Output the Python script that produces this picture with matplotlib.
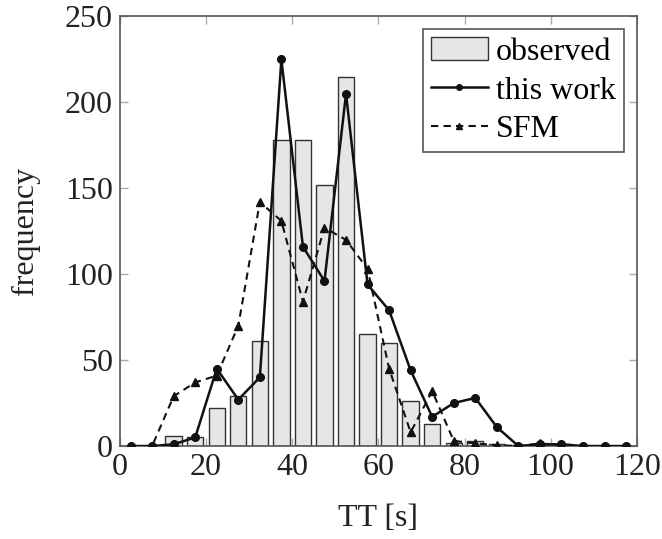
import matplotlib
matplotlib.use("Agg")
import matplotlib.pyplot as plt
from matplotlib.lines import Line2D
from matplotlib.patches import Patch

x_points = [2.5, 7.5, 12.5, 17.5, 22.5, 27.5, 32.5, 37.5, 42.5, 47.5, 52.5, 57.5,
            62.5, 67.5, 72.5, 77.5, 82.5, 87.5, 92.5, 97.5, 102.5, 107.5, 112.5, 117.5]
observed = [0, 0, 6, 5, 22, 29, 61, 178, 178, 152, 215, 65,
            60, 26, 13, 2, 3, 1, 0.5, 0.5, 1, 0, 0, 0]
this_work = [0, 0, 1, 5, 45, 27, 40, 225, 116, 96, 205, 94,
             79, 44, 17, 25, 28, 11, 0, 1, 1, 0, 0, 0]
sfm = [0, 0, 29, 37, 41, 70, 142, 131, 84, 127, 120, 103,
       45, 8, 32, 3, 1.5, 0.5, 0, 1.5, 0.5, 0, 0, 0]

xticks = [0, 20, 40, 60, 80, 100, 120]
yticks = [0, 50, 100, 150, 200, 250]

plt.rcParams['font.family'] = ['Liberation Serif', 'DejaVu Serif']

fig = plt.figure(figsize=(6.62, 5.39), dpi=100)
ax = fig.add_axes([0.181, 0.1725, 0.781, 0.797])

bar_fc = '#e5e6e8'
bar_ec = '#333333'
ls_dash = (0, (3.5, 2.5))
ax.bar(x_points, observed, width=3.8, color=bar_fc, edgecolor=bar_ec, linewidth=1.0, zorder=2)
ax.plot(x_points, this_work, color='#111111', linewidth=1.8, marker='o', markersize=5.5, zorder=4)
ax.plot(x_points, sfm, color='#111111', linewidth=1.5, linestyle=ls_dash, marker='^',
        markersize=5.5, zorder=3)

ax.set_xlim(0, 120)
ax.set_ylim(0, 250)
ax.set_xticks(xticks)
ax.set_yticks(yticks)
ax.tick_params(axis='both', which='both', direction='in', length=6, width=1.0, color='#aaaaaa',
               top=True, right=True, labelsize=23, pad=5, labelcolor='#222222')
for s in ax.spines.values():
    s.set_color('#555555')
    s.set_linewidth(1.2)

ax.set_xlabel('TT [s]', fontsize=23, color='#222222', labelpad=16)
ax.set_ylabel('frequency', fontsize=23, color='#222222', labelpad=18)

handles = [
    Patch(facecolor=bar_fc, edgecolor=bar_ec, linewidth=1.0),
    Line2D([], [], color='#111111', linewidth=1.8, marker='o', markersize=4),
    Line2D([], [], color='#111111', linewidth=1.5, linestyle=ls_dash, marker='^', markersize=4),
]
leg = ax.legend(handles, ['observed', 'this work', 'SFM'], loc='upper right', fontsize=23,
                frameon=True, fancybox=False, edgecolor='#555555', framealpha=1,
                handlelength=1.8, handletextpad=0.25, borderpad=0.25, labelspacing=0.3,
                borderaxespad=0.4)
leg.get_frame().set_linewidth(1.2)

fig.savefig('out.png', dpi=100)
